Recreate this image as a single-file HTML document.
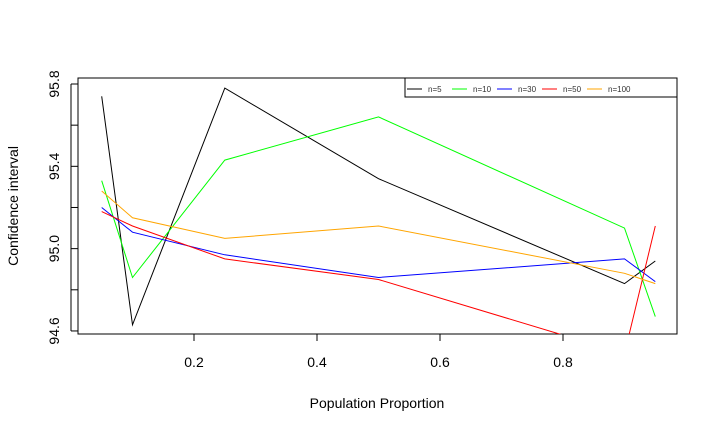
<!DOCTYPE html>
<html><head><meta charset="utf-8"><style>
html,body{margin:0;padding:0;background:#fff;}
svg{display:block;font-family:"Liberation Sans",Arial,sans-serif;}
</style></head><body>
<svg id="chart" width="718" height="432" xmlns="http://www.w3.org/2000/svg">
<defs><clipPath id="clip"><rect x="78" y="78" width="599" height="256"/></clipPath></defs>
<rect x="78" y="78" width="599" height="256" fill="none" stroke="#000" stroke-width="1"/>
<g id="xaxis"></g>
<g id="yaxis"></g>
<g id="series" clip-path="url(#clip)"></g>
<text x="377" y="408" font-size="14" text-anchor="middle">Population Proportion</text>
<text transform="translate(18,206) rotate(-90)" font-size="14" text-anchor="middle">Confidence interval</text>
<g id="legend"></g>
</svg>
<script>
const proportions = [0.05, 0.1, 0.25, 0.5, 0.9, 0.95];
const seriesNames = ["n=5", "n=10", "n=30", "n=50", "n=100"];
const seriesColors = ["#000000", "#00ff00", "#0000ff", "#ff0000", "#ffa500"];
const n5 = [95.74, 94.63, 95.78, 95.34, 94.83, 94.94];
const n10 = [95.33, 94.86, 95.43, 95.64, 95.10, 94.67];
const n30 = [95.20, 95.08, 94.97, 94.86, 94.95, 94.84];
const n50 = [95.18, 95.11, 94.95, 94.85, 94.49, 95.11];
const n100 = [95.28, 95.15, 95.05, 95.11, 94.88, 94.83];
const xTicks = [0.2, 0.4, 0.6, 0.8];
const yTicks = [94.6, 94.8, 95.0, 95.2, 95.4, 95.6, 95.8];
const yLabels = ["94.6", "", "95.0", "", "95.4", "", "95.8"];

const NS = "http://www.w3.org/2000/svg";
function X(v){ return 194 + (v - 0.2) * 615; }
function Y(v){ return 84 + (95.8 - v) * 205.8; }
function mk(tag, attrs, parent){ const e = document.createElementNS(NS, tag); for (const k in attrs) e.setAttribute(k, attrs[k]); parent.appendChild(e); return e; }

const xa = document.getElementById('xaxis');
mk('line', {x1: X(0.2), x2: X(0.8), y1: 334, y2: 334, stroke: '#000'}, xa);
xTicks.forEach(t => {
  const tk = mk('line', {x1: X(t), x2: X(t), y1: 334, y2: 341, stroke: '#000'}, xa);
  
  
  const tx = mk('text', {x: X(t), y: 367, 'font-size': 14, 'text-anchor': 'middle'}, xa);
  tx.textContent = t.toFixed(1);
  
  
});
const ya = document.getElementById('yaxis');
mk('line', {x1: 71, x2: 71, y1: Y(94.6), y2: Y(95.8), stroke: '#000'}, ya);
yTicks.forEach((t, i) => {
  const tk = mk('line', {x1: 71, x2: 78, y1: Y(t), y2: Y(t), stroke: '#000'}, ya);
  
  
  if (yLabels[i]) {
    const tx = mk('text', {transform: `translate(59,${Y(t)}) rotate(-90)`, 'font-size': 14, 'text-anchor': 'middle'}, ya);
    tx.textContent = yLabels[i];
    
    
  }
});

const sg = document.getElementById('series');
const allSeries = [n5, n10, n30, n50, n100];
allSeries.forEach((vals, si) => {
  const pts = vals.map((v, i) => X(proportions[i]).toFixed(1) + ',' + Y(v).toFixed(1)).join(' ');
  const pl = mk('polyline', {points: pts, fill: 'none', stroke: seriesColors[si], 'stroke-width': 1}, sg);
  
  
});

const lg = document.getElementById('legend');
mk('rect', {x: 405, y: 78, width: 272, height: 19, fill: '#fff', stroke: '#000'}, lg);
const lx = [407, 452, 497, 542, 587];
seriesNames.forEach((n, i) => {
  const g = mk('g', {}, lg);
  
  
  mk('line', {x1: lx[i], x2: lx[i] + 15, y1: 89, y2: 89, stroke: seriesColors[i]}, g);
  const t = mk('text', {x: lx[i] + 21, y: 92, 'font-size': 8, fill: '#333'}, g);
  t.textContent = n;
});
</script>
</body></html>
